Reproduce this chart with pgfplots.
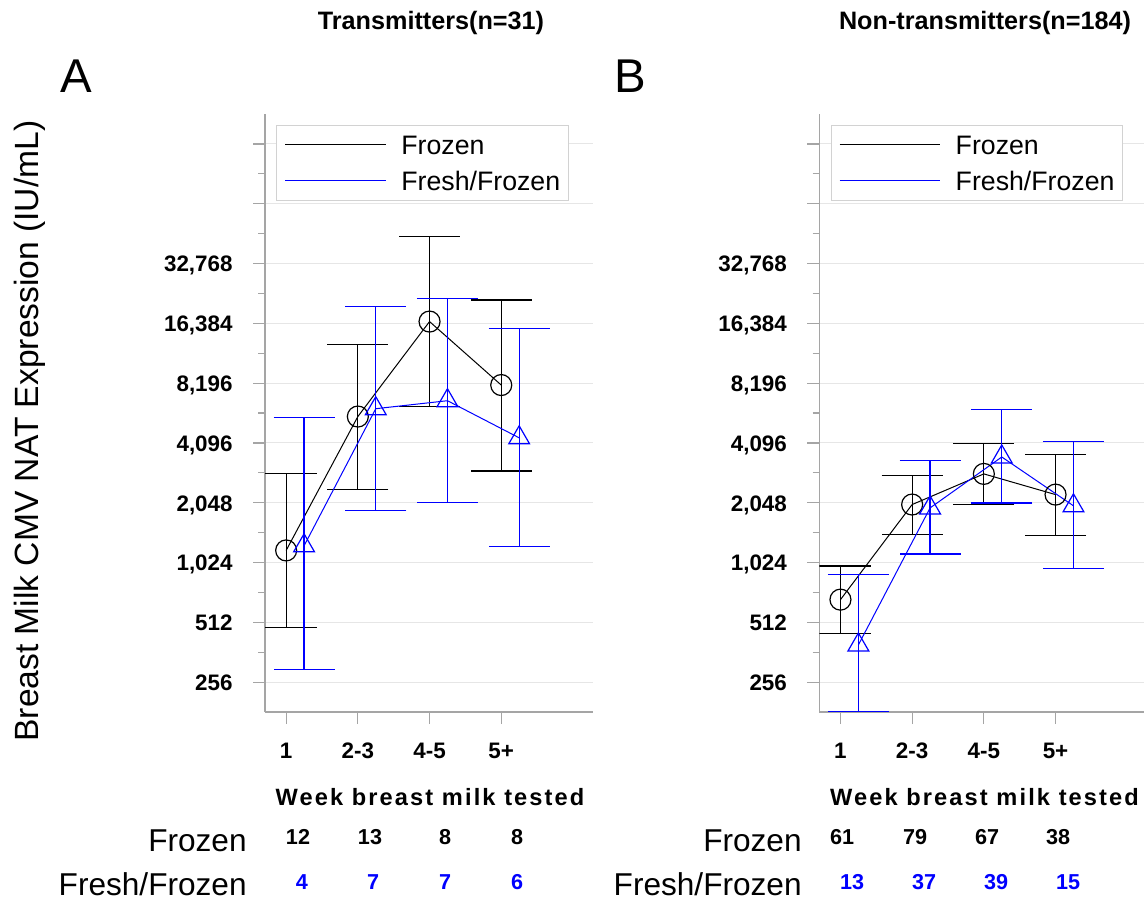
\documentclass[border=0pt]{standalone}
\usepackage{fontspec}
\setmainfont{Liberation Sans}
\usepackage{pgfplots}
\pgfplotsset{compat=1.18}
\usepackage{pgfplotstable}

\definecolor{axgray}{RGB}{165,165,165}
\definecolor{gridgray}{RGB}{230,230,230}
\definecolor{legbox}{RGB}{210,210,210}
\definecolor{fblue}{RGB}{0,0,255}

\pgfplotstableread{
x y ep em
1 1178 1692 694
2 5560 7310 3174
3 16720 28080 10470
4 8010 13440 5050
}\AFrozen
\pgfplotstableread{
x y ep em
1.25 1243 4257 947
2.25 6090 13880 4219
3.25 6680 15100 4632
4.25 4345 11145 3116
}\AFresh
\pgfplotstableread{
x y ep em
1 666 317 215
2 2005 793 582
3 2860 1210 860
4 2250 1340 843
}\BFrozen
\pgfplotstableread{
x y ep em
1.25 394 497 212
2.25 1928 1412 799
3.25 3480 2540 1440
4.25 1976 2174 1025
}\BFresh

\begin{document}
\begin{tikzpicture}
\begin{axis}[
    at={(132.5pt,-356pt)},
    scale only axis, width=164pt, height=299pt,
    anchor=south west,
    xmin=0.705, xmax=5.28,
    ymode=log, log basis y=2,
    ymin=181.02, ymax=185363.8,
    axis x line*=bottom, axis y line*=left,
    axis line style={axgray, line width=0.6pt},
    tick align=outside,
    major tick length=6pt,
    tick style={axgray, line width=0.6pt},
    xtick={1,2,3,4}, xticklabels={1,2-3,4-5,5+},
    ytick={256,512,1024,2048,4096,8192,16384,32768,65536,131072},
    yticklabels={256,512,{1,024},{2,048},{4,096},{8,196},{16,384},{32,768},{},{}},
    extra y ticks={362.04,724.08,1448.15,2896.31,5792.62,11585.24,23170.48,46340.95,92681.9},
    extra y tick labels={},
    extra y tick style={major tick length=3.3pt, ymajorgrids=false},
    ymajorgrids, major grid style={gridgray, line width=0.5pt},
    ticklabel style={font=\fontsize{11.2}{13}\selectfont\bfseries, inner sep=0pt},
    xticklabel style={anchor=base, yshift=-17pt},
    yticklabel style={anchor=base east, xshift=-10pt, yshift=-4.2pt},
    legend style={at={(0,1)}, anchor=north west, xshift=5.6pt, yshift=-5.35pt,
      draw=legbox, line width=0.5pt, inner xsep=4pt, inner ysep=5pt,
      column sep=7.5pt, row sep=8.4pt,
      font=\fontsize{13.35}{16}\selectfont,
      nodes={inner sep=0pt, text height=9.6pt, text depth=0pt}},
    legend cell align=left,
    legend image post style={mark=none, xscale=2.95},
]
\addplot[color=black, line width=0.5pt, mark=o, mark size=5.25pt,
    mark options={line width=0.6pt, solid},
    error bars/y dir=both, error bars/y explicit,
    error bars/error bar style={line width=0.6pt, black},
    error bars/error mark options={rotate=90, mark size=15.25pt, line width=0.6pt, black}]
  table[x=x, y=y, y error plus=ep, y error minus=em] {\AFrozen};
\addplot[color=fblue, draw=fblue, line width=0.5pt, mark=triangle, mark size=6pt,
    mark options={line width=0.6pt, solid},
    error bars/y dir=both, error bars/y explicit,
    error bars/error bar style={line width=0.6pt, fblue},
    error bars/error mark options={rotate=90, mark size=15.25pt, line width=0.6pt, fblue}]
  table[x=x, y=y, y error plus=ep, y error minus=em] {\AFresh};
\legend{Frozen, Fresh/Frozen}
\end{axis}
\begin{axis}[
    at={(409.65pt,-356pt)},
    scale only axis, width=164pt, height=299pt,
    anchor=south west,
    xmin=0.705, xmax=5.28,
    ymode=log, log basis y=2,
    ymin=181.02, ymax=185363.8,
    axis x line*=bottom, axis y line*=left,
    axis line style={axgray, line width=0.6pt},
    tick align=outside,
    major tick length=6pt,
    tick style={axgray, line width=0.6pt},
    xtick={1,2,3,4}, xticklabels={1,2-3,4-5,5+},
    ytick={256,512,1024,2048,4096,8192,16384,32768,65536,131072},
    yticklabels={256,512,{1,024},{2,048},{4,096},{8,196},{16,384},{32,768},{},{}},
    extra y ticks={362.04,724.08,1448.15,2896.31,5792.62,11585.24,23170.48,46340.95,92681.9},
    extra y tick labels={},
    extra y tick style={major tick length=3.3pt, ymajorgrids=false},
    ymajorgrids, major grid style={gridgray, line width=0.5pt},
    ticklabel style={font=\fontsize{11.2}{13}\selectfont\bfseries, inner sep=0pt},
    xticklabel style={anchor=base, yshift=-17pt},
    yticklabel style={anchor=base east, xshift=-10pt, yshift=-4.2pt},
    legend style={at={(0,1)}, anchor=north west, xshift=5.6pt, yshift=-5.35pt,
      draw=legbox, line width=0.5pt, inner xsep=4pt, inner ysep=5pt,
      column sep=7.5pt, row sep=8.4pt,
      font=\fontsize{13.35}{16}\selectfont,
      nodes={inner sep=0pt, text height=9.6pt, text depth=0pt}},
    legend cell align=left,
    legend image post style={mark=none, xscale=2.95},
]
\addplot[color=black, line width=0.5pt, mark=o, mark size=5.25pt,
    mark options={line width=0.6pt, solid},
    error bars/y dir=both, error bars/y explicit,
    error bars/error bar style={line width=0.6pt, black},
    error bars/error mark options={rotate=90, mark size=15.25pt, line width=0.6pt, black}]
  table[x=x, y=y, y error plus=ep, y error minus=em] {\BFrozen};
\addplot[color=fblue, draw=fblue, line width=0.5pt, mark=triangle, mark size=6pt,
    mark options={line width=0.6pt, solid},
    error bars/y dir=both, error bars/y explicit,
    error bars/error bar style={line width=0.6pt, fblue},
    error bars/error mark options={rotate=90, mark size=15.25pt, line width=0.6pt, fblue}]
  table[x=x, y=y, y error plus=ep, y error minus=em] {\BFresh};
\legend{Frozen, Fresh/Frozen}
\end{axis}

% titles
\node[anchor=base, font=\fontsize{12.6}{15}\selectfont\bfseries] at (215.5pt,-14.5pt) {Transmitters(n=31)};
\node[anchor=base, font=\fontsize{12.6}{15}\selectfont\bfseries] at (492.5pt,-14.5pt) {Non-transmitters(n=184)};
% panel letters
\node[anchor=base, font=\fontsize{23.7}{28}\selectfont, inner sep=0pt] at (38pt,-46pt) {A};
\node[anchor=base, font=\fontsize{23.7}{28}\selectfont, inner sep=0pt] at (315pt,-46pt) {B};
% y label
\node[anchor=base, rotate=90, font=\fontsize{16.8}{20}\selectfont, inner sep=0pt] at (19pt,-215.5pt) {Breast Milk CMV NAT Expression (IU/mL)};
% x labels
\node[anchor=base, font=\fontsize{11.8}{14}\selectfont\bfseries\addfontfeature{LetterSpace=9}, inner sep=0pt] at (215pt,-402.5pt) {Week breast milk tested};
\node[anchor=base, font=\fontsize{11.8}{14}\selectfont\bfseries\addfontfeature{LetterSpace=9}, inner sep=0pt] at (492.25pt,-402.5pt) {Week breast milk tested};
% row labels
\node[anchor=base east, font=\fontsize{15.8}{18}\selectfont, inner sep=0pt] at (123.5pt,-425.7pt) {Frozen};
\node[anchor=base east, font=\fontsize{15.8}{18}\selectfont, inner sep=0pt] at (123.5pt,-447.7pt) {Fresh/Frozen};
\node[anchor=base east, font=\fontsize{15.8}{18}\selectfont, inner sep=0pt] at (401pt,-425.7pt) {Frozen};
\node[anchor=base east, font=\fontsize{15.8}{18}\selectfont, inner sep=0pt] at (401pt,-447.7pt) {Fresh/Frozen};
% counts
\begin{scope}[every node/.style={anchor=base, inner sep=0pt, font=\fontsize{10.8}{13}\selectfont\bfseries}]
\node at (149pt,-422.4pt) {12};
\node at (185pt,-422.4pt) {13};
\node at (222.5pt,-422.4pt) {8};
\node at (258.5pt,-422.4pt) {8};
\node[fblue] at (151pt,-444.9pt) {4};
\node[fblue] at (186.5pt,-444.9pt) {7};
\node[fblue] at (222.5pt,-444.9pt) {7};
\node[fblue] at (258.5pt,-444.9pt) {6};
\node at (421pt,-422.4pt) {61};
\node at (457.5pt,-422.4pt) {79};
\node at (493.5pt,-422.4pt) {67};
\node at (529pt,-422.4pt) {38};
\node[fblue] at (426pt,-444.9pt) {13};
\node[fblue] at (462pt,-444.9pt) {37};
\node[fblue] at (498pt,-444.9pt) {39};
\node[fblue] at (534pt,-444.9pt) {15};
\end{scope}
\pgfresetboundingbox
\path[use as bounding box] (0pt,0pt) rectangle (572pt,-451pt);
\end{tikzpicture}
\end{document}
